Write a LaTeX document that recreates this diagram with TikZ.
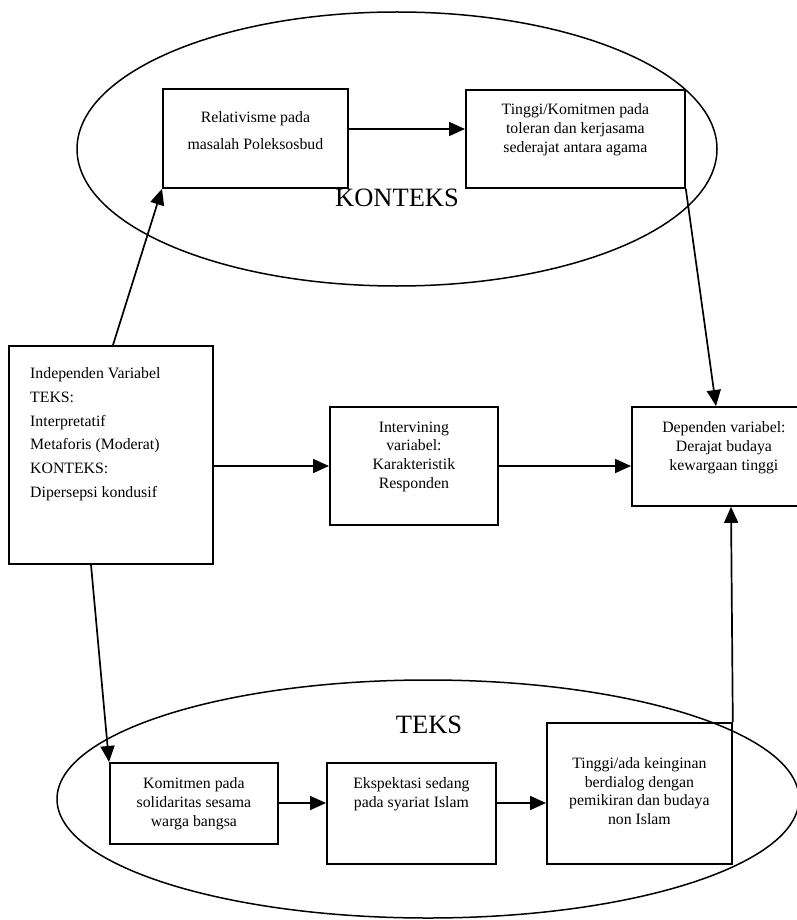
\documentclass[tikz,border=0pt]{standalone}
\usepackage{fontspec}
\setmainfont{Liberation Serif}
\usetikzlibrary{arrows.meta,calc}
\tikzset{
  box/.style={draw, line width=1.8pt, rectangle, inner sep=0pt, anchor=north west},
  txt/.style={inner sep=0pt, anchor=north, align=center, font=\fontsize{15.8}{19}\selectfont},
  arr/.style={line width=1.7pt, -{Triangle[length=16pt,width=14pt]}},
  oval/.style={line width=1.5pt},
  big/.style={inner sep=0pt, font=\fontsize{26.5}{30}\selectfont}
}
\begin{document}
\begin{tikzpicture}[x=1pt,y=-1pt]
\useasboundingbox (0,0) rectangle (796,920);

% context ellipse and its boxes
\draw[oval] (397,149) ellipse [x radius=320pt, y radius=137pt];
\node[big] (konteks) at (397,198) {KONTEKS};
\node[box, minimum width=185pt, minimum height=99pt] (rel) at (162,88) {};
\node[box, minimum width=219pt, minimum height=98pt] (tk) at (465,89) {};
\node[txt, font=\fontsize{15.8}{27}\selectfont] (relT) at ($(rel.north)+(0,23.5)$) {Relativisme pada\\masalah Poleksosbud};
\node[txt] (tkT) at ($(tk.north)+(0,14.5)$) {Tinggi/Komitmen pada\\toleran dan kerjasama\\sederajat antara agama};

% middle row
\node[box, minimum width=204pt, minimum height=218pt] (ind) at (8,345) {};
\node[txt, align=left, anchor=north west, font=\fontsize{15.8}{23.7}\selectfont] (indT) at ($(ind.north west)+(22,22.5)$)
  {Independen Variabel\\TEKS:\\Interpretatif\\Metaforis (Moderat)\\KONTEKS:\\Dipersepsi kondusif};
\node[box, minimum width=168pt, minimum height=118pt] (itv) at (329,406) {};
\node[txt, font=\fontsize{15.8}{18.7}\selectfont] (itvT) at ($(itv.north)+(0,15.5)$) {Intervining\\variabel:\\Karakteristik\\Responden};
\node[box, minimum width=190pt, minimum height=99pt] (dep) at (631,406) {};
\node[txt] (depT) at ($(dep.north)+(-3,15.5)$) {Dependen variabel:\\Derajat budaya\\kewargaan tinggi};

% text ellipse and its boxes
\draw[oval] (428,799) ellipse [x radius=371pt, y radius=119pt];
\node[big] (teks) at (429,725) {TEKS};
\node[box, minimum width=168pt, minimum height=81pt] (kom) at (109,762) {};
\node[txt] (komT) at ($(kom.north)+(0,15.5)$) {Komitmen pada\\solidaritas sesama\\warga bangsa};
\node[box, minimum width=169pt, minimum height=101pt] (eks) at (326,762) {};
\node[txt] (eksT) at ($(eks.north)+(0,15.5)$) {Ekspektasi sedang\\pada syariat Islam};
\node[box, minimum width=185pt, minimum height=141pt] (tad) at (546,722) {};
\node[txt, font=\fontsize{15.8}{18.5}\selectfont] (tadT) at ($(tad.north)+(0,35.5)$) {Tinggi/ada keinginan\\berdialog dengan\\pemikiran dan budaya\\non Islam};

% connectors
\draw[arr] ([yshift=-41pt]rel.north east) -- ([yshift=-40pt]tk.north west);
\draw[arr] ([xshift=105pt]ind.north west) -- (rel.south west);
\draw[arr] (tk.south east) -- ([xshift=85pt]dep.north west);
\draw[arr] ([yshift=-121pt]ind.north east) -- ([yshift=-60pt]itv.north west);
\draw[arr] ([yshift=-60pt]itv.north east) -- ([yshift=-60pt]dep.north west);
\draw[arr] ([xshift=83pt]ind.south west) -- (kom.north west);
\draw[arr] ([yshift=-41pt]kom.north east) -- ([yshift=-41pt]eks.north west);
\draw[arr] ([yshift=-41pt]eks.north east) -- ([yshift=-81pt]tad.north west);
\draw[arr] (tad.north east) -- ([xshift=100pt]dep.south west);
\end{tikzpicture}
\end{document}
